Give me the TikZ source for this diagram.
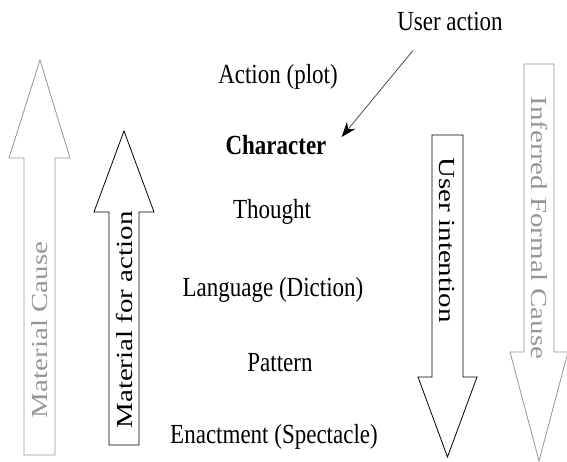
\documentclass[tikz,border=0pt]{standalone}
\usepackage{fontspec}
\setmainfont{Liberation Serif}
\usetikzlibrary{arrows.meta}
\definecolor{causegray}{RGB}{150,150,150}

\begin{document}
\begin{tikzpicture}[x=1pt, y=1pt,
                level node/.style={font=\fontsize{23}{27}\selectfont, inner sep=0pt, yscale=1.2, transform shape},
                side node/.style={font=\fontsize{23}{27}\selectfont, inner sep=0pt, xscale=1.26, transform shape},
                block arrow/.style={draw, line width=0.8pt, miter limit=20}]

            \useasboundingbox (0,0) rectangle (567,462);

            % Block arrows
            \draw[block arrow, causegray] (24,7) -- (24,304) -- (9,304) -- (40,402) -- (70,304) -- (55,304) -- (55,7) -- cycle;
            \draw[block arrow] (109,17) -- (109,250) -- (94,250) -- (124,331) -- (154,250) -- (139,250) -- (139,17) -- cycle;
            \draw[block arrow] (432,327) -- (432,85) -- (418,85) -- (447.5,5) -- (477,85) -- (463,85) -- (463,327) -- cycle;
            \draw[block arrow, causegray] (524,398) -- (524,110) -- (510,110) -- (539,1) -- (568,110) -- (554,110) -- (554,398) -- cycle;

            % Nodes
            \node[level node] (user) at (450,440) {User action};
            \node[level node] (plot) at (278,385) {Action (plot)};
            \node[level node, font=\fontsize{23}{27}\selectfont\bfseries] (char) at (276,317) {Character};
            \node[level node] (thought) at (272,250) {Thought};
            \node[level node] (diction) at (273,172) {Language (Diction)};
            \node[level node] (pattern) at (280,99) {Pattern};
            \node[level node] (spectacle) at (274,25) {Enactment (Spectacle)};

            \node[rotate=90, side node, text=causegray] (matcause) at (40,132) {Material Cause};
            \node[rotate=90, side node] (matact) at (125,142) {Material for action};
            \node[rotate=-90, side node] (intent) at (447,222) {User intention};
            \node[rotate=-90, side node, text=causegray] (formcause) at (539,234) {Inferred Formal Cause};

            % Edges
            \draw[-{Stealth[length=15pt, width=11pt, black]}, line width=0.8pt, black!70]
            ([shift={(-37,-19)}]user.south) -- ([shift={(15,8)}]char.east);

        \end{tikzpicture}
\end{document}
